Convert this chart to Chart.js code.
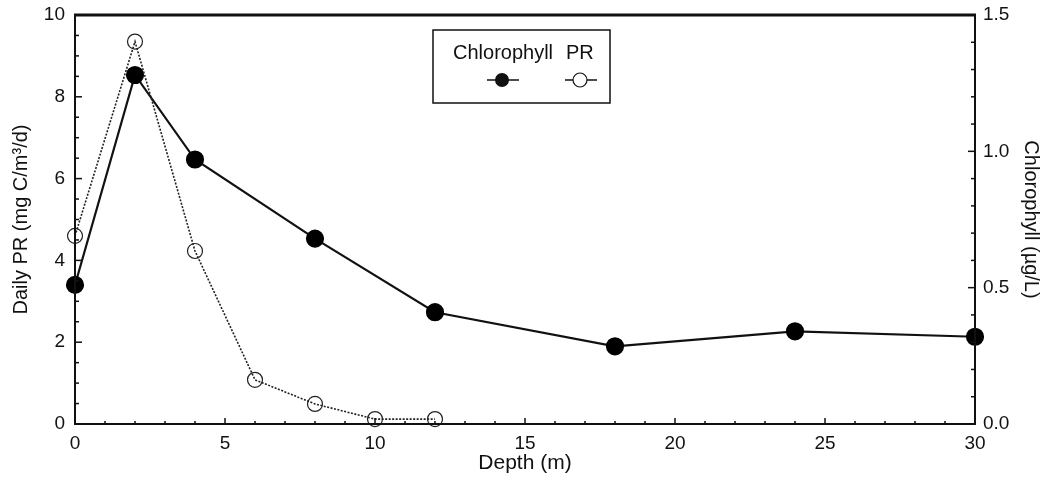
<!DOCTYPE html>
<html>
<head>
<meta charset="utf-8">
<script src="https://cdn.jsdelivr.net/npm/chart.js@4"></script>
<style>
  html, body { margin: 0; padding: 0; background: #fff; }
  #wrap { width: 1047px; height: 488px; }
</style>
</head>
<body>
<div id="wrap"><canvas id="depthChart"></canvas></div>
<script>
// Depth profile values
const depthPR = [0, 2, 4, 6, 8, 10, 12];
const dailyPR = [4.6, 9.35, 4.23, 1.08, 0.49, 0.12, 0.12];
const depthChl = [0, 2, 4, 8, 12, 18, 24, 30];
const chlorophyll = [0.51, 1.28, 0.97, 0.68, 0.41, 0.285, 0.34, 0.32];
const legendLabels = ['Chlorophyll', 'PR'];

const FONT = '"Liberation Sans", Arial, sans-serif';

// frame, inward ticks and legend box
const framePlugin = {
    id: 'frame',
    afterDatasetsDraw(chart) {
        const { ctx, chartArea: a, scales } = chart;
        ctx.save();
        ctx.strokeStyle = '#111';
        ctx.lineWidth = 2;
        ctx.beginPath();
        ctx.moveTo(a.left, a.top); ctx.lineTo(a.left, a.bottom); ctx.lineTo(a.right, a.bottom); ctx.lineTo(a.right, a.top);
        ctx.stroke();
        ctx.lineWidth = 3;
        ctx.beginPath(); ctx.moveTo(a.left - 1, a.top); ctx.lineTo(a.right + 1, a.top); ctx.stroke();

        ctx.lineWidth = 1.5;
        const tick = (x1, y1, x2, y2) => { ctx.beginPath(); ctx.moveTo(x1, y1); ctx.lineTo(x2, y2); ctx.stroke(); };
        for (let v = 0; v <= 30; v += 1) {
            const x = scales.x.getPixelForValue(v);
            tick(x, a.bottom, x, a.bottom - (v % 5 === 0 ? 6 : 3));
        }
        for (let i = 0; i <= 20; i++) {
            const y = scales.y.getPixelForValue(i * 0.5);
            tick(a.left, y, a.left + (i % 4 === 0 ? 7 : 4), y);
        }
        for (let i = 0; i <= 15; i++) {
            const y = scales.y2.getPixelForValue(i * 0.1);
            tick(a.right, y, a.right - (i % 5 === 0 ? 7 : 4), y);
        }

        // legend
        ctx.lineWidth = 1.5;
        ctx.strokeRect(433, 30, 177, 73);
        ctx.fillStyle = '#111';
        ctx.font = '20px ' + FONT;
        ctx.textBaseline = 'middle';
        ctx.textAlign = 'left';
        ctx.fillText(legendLabels[0], 453, 53);
        ctx.fillText(legendLabels[1], 566, 53);
        ctx.lineWidth = 1.5;
        tick(487, 80, 519, 80);
        ctx.beginPath(); ctx.arc(502, 80, 7, 0, Math.PI * 2); ctx.fill();
        tick(565, 80, 597, 80);
        ctx.beginPath(); ctx.arc(580, 80, 7, 0, Math.PI * 2);
        ctx.fillStyle = '#fff'; ctx.fill(); ctx.lineWidth = 1.2; ctx.stroke();
        ctx.restore();
    }
};

const fitY = w => s => { s.width = w; s.paddingTop = 0; s.paddingBottom = 0; };

new Chart(document.getElementById('depthChart'), {
    type: 'line',
    data: {
        datasets: [
            {
                label: 'PR',
                data: depthPR.map((d, i) => ({ x: d, y: dailyPR[i] })),
                yAxisID: 'y',
                borderColor: '#222',
                borderWidth: 1.6,
                borderDash: [2, 1.5],
                pointRadius: 7.5,
                pointBackgroundColor: 'rgba(255,255,255,0)',
                pointBorderColor: '#222',
                pointBorderWidth: 1.2,
                clip: false,
                tension: 0
            },
            {
                label: 'Chlorophyll',
                data: depthChl.map((d, i) => ({ x: d, y: chlorophyll[i] })),
                yAxisID: 'y2',
                borderColor: '#111',
                borderWidth: 2.2,
                pointRadius: 8,
                pointBackgroundColor: '#000',
                pointBorderColor: '#000',
                clip: false,
                tension: 0
            }
        ]
    },
    options: {
        responsive: true,
        maintainAspectRatio: false,
        animation: false,
        layout: { padding: { top: 15 } },
        plugins: { legend: { display: false }, tooltip: { enabled: false } },
        scales: {
            x: {
                type: 'linear', min: 0, max: 30,
                afterFit: s => { s.height = 64; },
                grid: { display: false, drawTicks: false },
                border: { display: false },
                ticks: { stepSize: 5, padding: 8, color: '#111', font: { family: FONT, size: 19 } },
                title: { display: true, text: 'Depth (m)', color: '#111', padding: { top: 0, bottom: 12 }, font: { family: FONT, size: 21 } }
            },
            y: {
                position: 'left', min: 0, max: 10,
                afterFit: fitY(75),
                grid: { display: false, drawTicks: false },
                border: { display: false },
                ticks: { stepSize: 2, padding: 10, color: '#111', font: { family: FONT, size: 19 } },
                title: { display: true, text: 'Daily PR (mg C/m³/d)', color: '#111', padding: { top: 9, bottom: 0 }, font: { family: FONT, size: 20 } }
            },
            y2: {
                position: 'right', min: 0, max: 1.5,
                afterFit: fitY(72),
                grid: { display: false, drawTicks: false },
                border: { display: false },
                ticks: { stepSize: 0.5, padding: 8, color: '#111', font: { family: FONT, size: 19 }, callback: v => v.toFixed(1) },
                title: { display: true, text: 'Chlorophyll (µg/L)', color: '#111', padding: { top: 4, bottom: 0 }, font: { family: FONT, size: 20 } }
            }
        }
    },
    plugins: [framePlugin]
});
</script>
</body>
</html>
